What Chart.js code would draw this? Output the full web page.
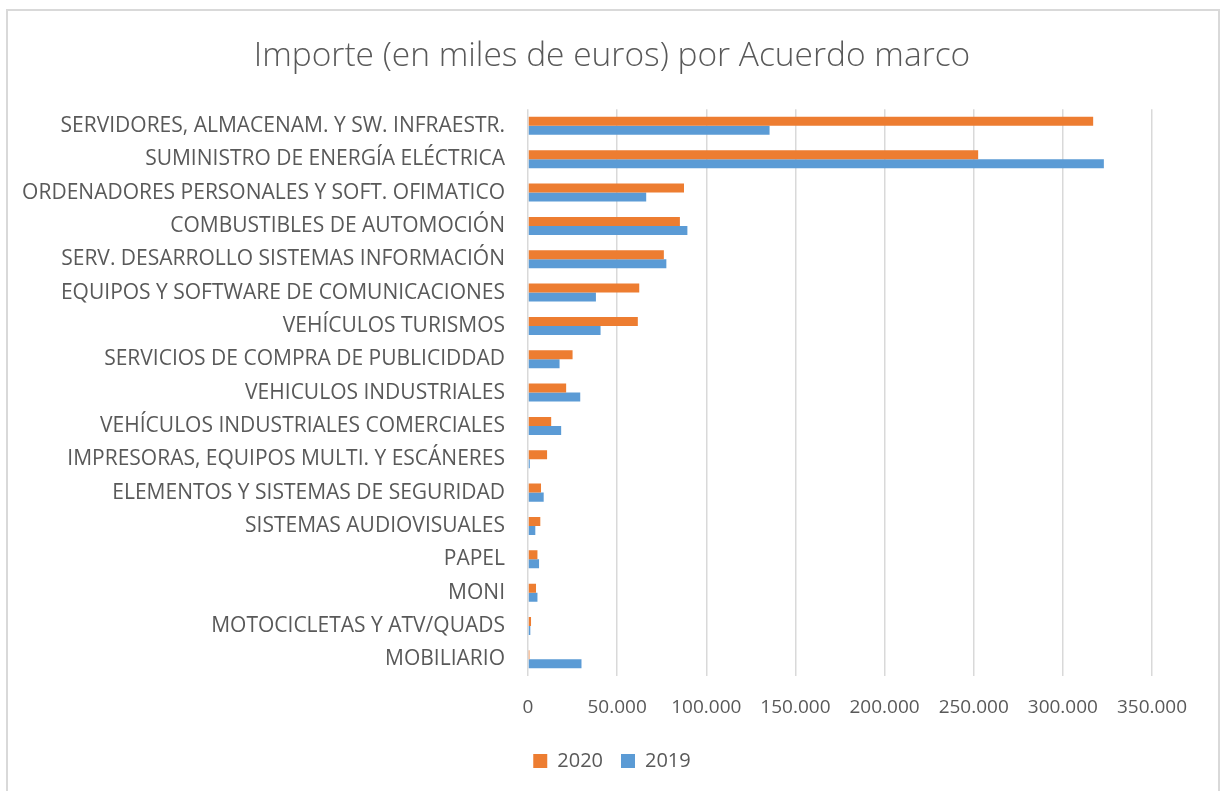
<!DOCTYPE html>
<html lang="es">
<head>
    <meta charset="UTF-8">
    <title>Importe por Acuerdo marco</title>
    <script src="https://cdn.jsdelivr.net/npm/chart.js@4.4.2/dist/chart.umd.min.js"></script>
    <style>
        body {
          margin: 0;
          padding: 0;
          background-color: #fff;}
        .frame {
          position: absolute;
          left: 6px;
          top: 9px;
          width: 1210px;
          height: 820px;
          border: 2px solid #d9d9d9;}
        .wrap {
          position: absolute;
          left: 0;
          top: 0;
          width: 1224px;
          height: 791px;}
    </style>
</head>
<body>
    <div class="frame"></div>
    <div class="wrap"><canvas id="myChart" width="1224" height="791"></canvas></div>
    <script>
        // Categories, top to bottom
        const categories = [
            'SERVIDORES, ALMACENAM. Y SW. INFRAESTR.',
            'SUMINISTRO DE ENERGÍA ELÉCTRICA',
            'ORDENADORES PERSONALES Y SOFT. OFIMATICO',
            'COMBUSTIBLES DE AUTOMOCIÓN',
            'SERV. DESARROLLO SISTEMAS INFORMACIÓN',
            'EQUIPOS Y SOFTWARE DE COMUNICACIONES',
            'VEHÍCULOS TURISMOS',
            'SERVICIOS DE COMPRA DE PUBLICIDDAD',
            'VEHICULOS INDUSTRIALES',
            'VEHÍCULOS INDUSTRIALES COMERCIALES',
            'IMPRESORAS, EQUIPOS MULTI. Y ESCÁNERES',
            'ELEMENTOS Y SISTEMAS DE SEGURIDAD',
            'SISTEMAS AUDIOVISUALES',
            'PAPEL',
            'MONI',
            'MOTOCICLETAS Y ATV/QUADS',
            'MOBILIARIO'];
        // Values in miles de euros
        const values2020 = [317000, 252500, 87500, 85200, 76200, 62400, 61600, 25000, 21400, 13000,
                            10700, 7300, 6900, 5300, 4500, 1700, 800];
        const values2019 = [135500, 323000, 66300, 89400, 77600, 38100, 40700, 17700, 29300, 18600,
                            1000, 8800, 4100, 6200, 5300, 1300, 30000];
        const seriesNames = ['2020', '2019'];
        const xMax = 350000;
        const xStep = 50000;

        const textColor = '#595959';
        const gridColor = '#d9d9d9';
        const fontName = "'Open Sans', sans-serif";

        // 50000 -> 50.000
        function formatMiles(v) {
            return String(v).replace(/\B(?=(\d{3})+(?!\d))/g, '.');}

        const ctx = document.getElementById('myChart').getContext('2d');
        const myChart = new Chart(ctx, {
            type: 'bar',
            data: {
                labels: categories,
                datasets: [
                    {label: seriesNames[0], data: values2020, backgroundColor: '#ed7d31'},
                    {label: seriesNames[1], data: values2019, backgroundColor: '#5b9bd5'}]},
            options: {
                indexAxis: 'y',
                responsive: false,
                animation: false,
                categoryPercentage: 0.54,
                barPercentage: 1.0,
                layout: {padding: {top: 12, left: 0, right: 0, bottom: 10}},
                scales: {
                    x: {
                        min: 0,
                        max: xMax,
                        ticks: {
                            stepSize: xStep,
                            padding: 20,
                            color: textColor,
                            font: {family: fontName, size: 19},
                            callback: function(value) { return formatMiles(value); }},
                        grid: {color: gridColor, lineWidth: 1.5, drawTicks: false},
                        border: {display: false},
                        afterFit: function(scale) { scale.height = 57; }},
                    y: {
                        ticks: {
                            padding: 23,
                            autoSkip: false,
                            color: textColor,
                            font: {family: fontName, size: 21}},
                        grid: {display: false, drawTicks: false},
                        border: {display: false},
                        afterFit: function(scale) { scale.width = 528; }},
                    // empty space on the right so the title stays centred on the page
                    yRight: {
                        type: 'category',
                        position: 'right',
                        ticks: {display: false},
                        grid: {display: false, drawTicks: false},
                        border: {display: false},
                        afterFit: function(scale) { scale.width = 72; }}},
                plugins: {
                    title: {
                        display: true,
                        text: 'Importe (en miles de euros) por Acuerdo marco',
                        color: textColor,
                        font: {family: fontName, size: 33.5, weight: 300},
                        padding: {top: 24, bottom: 33}},
                    legend: {
                        position: 'bottom',
                        labels: {
                            boxWidth: 14,
                            boxHeight: 14,
                            padding: 18,
                            color: textColor,
                            font: {family: fontName, size: 20}}},
                    tooltip: {enabled: false}}}});
    </script>
</body>
</html>
